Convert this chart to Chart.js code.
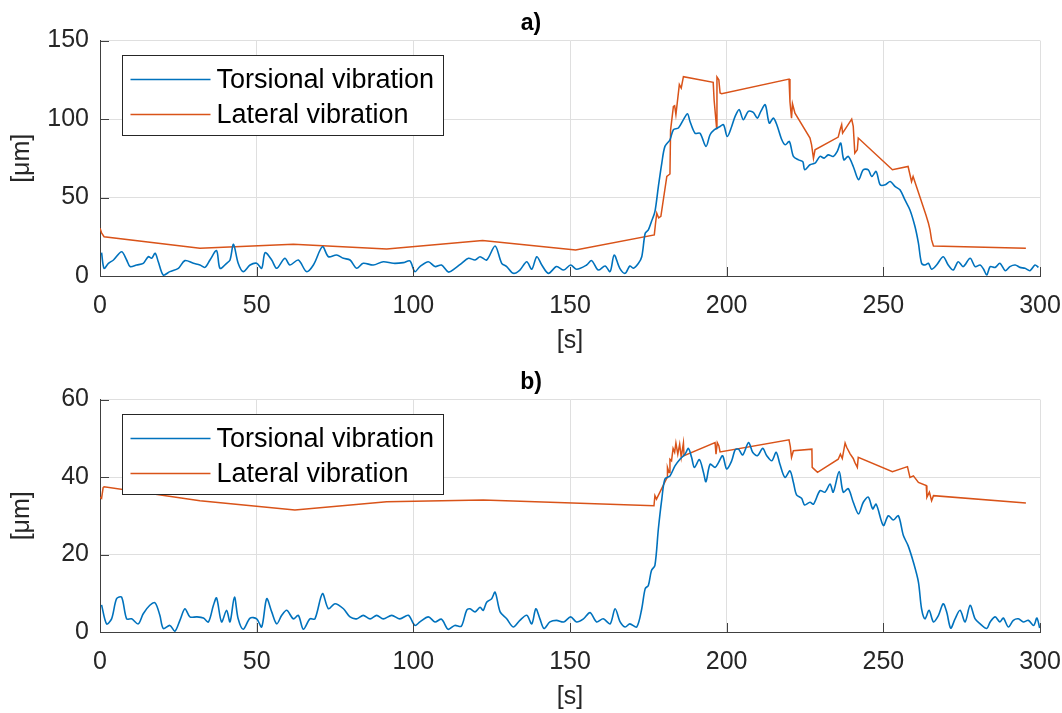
<!DOCTYPE html>
<html>
<head>
<meta charset="utf-8">
<script src="https://cdn.jsdelivr.net/npm/chart.js@4.4.1/dist/chart.umd.min.js"></script>
<style>
    html, body { margin: 0; padding: 0; background: #fff; }
    .panel { position: absolute; left: 0; width: 1062px; height: 357px; }
</style>
</head>
<body>
<div class="panel" style="top:0"><canvas id="chartA" width="1062" height="357"></canvas></div>
<div class="panel" style="top:357px"><canvas id="chartB" width="1062" height="356"></canvas></div>
<script>
// a) time [s] and amplitude [um]
const torsionalATime = [0.5, 1.3, 2.7, 4.3, 6.9, 8.5, 9.6, 11.7, 13.8, 15.4, 16.5, 17.6, 18.6, 20.2, 22.3, 25.0, 27.1, 29.8, 31.9, 33.5, 35.1, 37.2, 38.3, 40.4, 41.5, 42.6, 44.1, 45.7, 47.9, 50.0, 51.6, 52.7, 54.8, 56.4, 59.0, 60.6, 63.3, 65.9, 68.1, 71.0, 72.9, 75.5, 77.7, 79.8, 81.9, 84.0, 87.2, 90.4, 93.6, 96.8, 98.9, 100.5, 102.1, 104.8, 106.9, 109.0, 111.2, 113.3, 115.4, 117.6, 119.7, 121.3, 123.4, 126.1, 128.2, 129.8, 131.9, 134.0, 136.2, 137.8, 139.4, 141.0, 143.1, 145.7, 148.0, 150.2, 152.1, 155.3, 156.9, 159.0, 161.2, 162.8, 164.1, 165.9, 167.6, 169.1, 170.2, 171.8, 172.9, 174.0, 175.0, 176.0, 177.1, 178.2, 179.3, 180.3, 181.9, 183.0, 184.6, 186.2, 187.5, 188.3, 189.9, 191.5, 193.4, 194.7, 196.1, 197.9, 199.0, 200.2, 201.6, 202.7, 204.0, 205.3, 206.9, 208.5, 209.8, 210.9, 212.3, 213.6, 214.9, 216.0, 217.6, 218.7, 220.0, 221.3, 222.9, 224.3, 224.9, 226.6, 228.2, 229.8, 231.1, 232.4, 234.0, 235.3, 236.4, 237.4, 238.8, 240.4, 242.1, 243.6, 245.2, 246.3, 247.7, 249.0, 250.6, 252.2, 253.8, 255.3, 256.9, 258.5, 260.1, 261.2, 262.2, 263.3, 264.4, 265.4, 267.0, 269.1, 270.7, 272.3, 273.9, 275.5, 277.7, 279.3, 280.9, 282.0, 283.0, 284.1, 285.7, 287.2, 288.9, 290.4, 292.1, 293.6, 295.2, 296.8, 298.4, 299.5];
const torsionalA = [14.9, 4.9, 8.1, 10.2, 15.5, 10.2, 6.0, 7.0, 8.0, 12.3, 11.3, 14.5, 9.1, 0.6, 2.8, 4.9, 9.8, 8.1, 7.0, 5.5, 10.2, 16.2, 4.9, 8.1, 10.2, 20.2, 8.1, 2.8, 7.0, 8.1, 4.9, 14.9, 10.2, 4.9, 11.3, 7.0, 10.2, 2.8, 7.0, 18.7, 12.3, 13.4, 11.3, 10.2, 4.9, 8.1, 7.0, 9.1, 8.1, 8.5, 9.6, 2.8, 6.0, 9.1, 6.0, 7.0, 2.5, 4.9, 8.1, 11.3, 10.2, 12.3, 10.2, 19.1, 8.1, 6.0, 1.7, 3.8, 9.1, 4.3, 12.3, 7.0, 1.7, 6.0, 3.8, 7.0, 4.3, 7.0, 9.8, 3.8, 6.4, 2.8, 13.4, 4.9, 1.7, 6.4, 4.9, 8.0, 12.3, 27.2, 29.4, 34.7, 41.0, 57.0, 72.0, 82.6, 86.8, 93.2, 94.3, 99.6, 103.4, 98.5, 91.0, 91.0, 82.6, 90.0, 93.2, 95.3, 96.4, 88.9, 95.3, 101.7, 106.0, 99.6, 104.9, 104.3, 100.6, 104.9, 109.1, 97.4, 100.6, 96.4, 86.8, 83.6, 85.7, 76.2, 74.0, 72.9, 67.7, 70.9, 71.9, 76.2, 75.1, 77.2, 76.2, 79.4, 84.7, 74.0, 76.2, 69.8, 61.3, 67.7, 67.7, 63.4, 66.6, 58.1, 58.1, 60.2, 57.0, 54.9, 48.5, 42.1, 31.5, 20.9, 8.1, 7.0, 8.1, 4.3, 7.0, 12.3, 7.0, 3.8, 9.1, 6.0, 11.3, 6.0, 7.0, 4.3, 0.6, 6.0, 5.5, 8.1, 3.4, 6.0, 7.0, 5.5, 4.9, 3.4, 7.0, 5.5];

const lateralATime = [0.0, 0.5, 1.3, 31.9, 61.7, 91.5, 122.1, 151.8, 176.9, 177.3, 177.7, 178.3, 179.0, 180.9, 181.9, 182.1, 183.0, 183.4, 183.8, 184.9, 185.5, 186.2, 195.7, 196.0, 196.8, 196.9, 197.5, 197.9, 198.4, 219.9, 220.2, 220.7, 221.0, 221.8, 226.6, 227.1, 227.7, 228.2, 235.6, 236.2, 236.7, 237.0, 239.9, 240.4, 240.9, 241.7, 242.0, 252.9, 257.9, 259.0, 259.5, 263.6, 264.4, 264.9, 265.4, 266.0, 295.5];
const lateralA = [30.4, 27.5, 25.0, 17.7, 20.2, 17.2, 22.6, 16.6, 26.2, 33.6, 40.0, 37.0, 38.0, 63.4, 65.0, 93.0, 108.0, 108.5, 102.8, 122.0, 119.8, 127.0, 123.4, 112.0, 94.0, 126.8, 125.0, 116.6, 116.2, 125.5, 111.0, 100.6, 109.8, 103.8, 87.9, 83.6, 75.0, 80.4, 88.5, 93.2, 96.4, 91.0, 100.0, 95.3, 78.3, 80.4, 87.9, 67.7, 69.8, 60.2, 63.4, 38.9, 33.6, 29.4, 23.0, 19.1, 17.7];

// b)
const torsionalBTime = [0.5, 2.1, 3.7, 5.3, 6.9, 8.5, 10.1, 12.2, 13.8, 15.9, 17.6, 19.1, 20.2, 22.3, 23.9, 25.5, 27.1, 28.7, 30.9, 33.0, 34.6, 36.2, 37.2, 38.8, 40.4, 41.5, 42.9, 44.1, 45.7, 47.9, 50.0, 51.6, 53.2, 54.8, 56.4, 58.0, 59.6, 61.7, 63.3, 64.9, 67.0, 68.6, 71.0, 72.9, 75.0, 77.7, 79.8, 81.9, 84.0, 86.2, 88.3, 90.4, 93.1, 95.7, 98.4, 100.5, 102.1, 104.8, 106.9, 109.0, 111.1, 113.2, 115.3, 117.0, 118.1, 119.7, 121.3, 122.3, 123.4, 125.0, 126.1, 127.7, 129.8, 131.9, 134.0, 136.2, 137.8, 139.1, 140.4, 141.7, 143.6, 145.7, 148.0, 150.2, 152.1, 154.3, 156.4, 158.5, 160.6, 162.8, 164.4, 166.0, 167.6, 169.1, 171.3, 172.9, 174.0, 175.0, 176.0, 177.1, 178.2, 179.3, 180.3, 181.9, 183.5, 185.1, 186.7, 187.8, 188.8, 189.7, 191.3, 192.6, 193.4, 194.7, 196.3, 197.3, 198.7, 200.0, 201.6, 202.7, 203.8, 205.1, 207.0, 208.3, 209.8, 211.5, 212.8, 214.4, 215.8, 217.0, 218.6, 220.2, 221.3, 222.3, 223.9, 224.9, 226.6, 227.7, 229.8, 231.4, 233.0, 234.0, 235.9, 237.2, 238.8, 240.4, 242.1, 243.6, 245.2, 246.6, 247.7, 250.0, 251.6, 253.2, 254.8, 256.4, 257.9, 259.6, 261.2, 262.2, 263.3, 264.6, 266.0, 267.6, 269.1, 270.2, 271.5, 272.9, 274.5, 276.1, 277.7, 279.3, 280.9, 283.0, 284.1, 285.7, 287.2, 288.3, 289.9, 291.5, 293.1, 294.7, 296.3, 298.0, 299.0, 299.9];
const torsionalB = [7.0, 2.1, 3.4, 8.6, 9.0, 3.4, 3.4, 2.1, 4.7, 6.9, 7.5, 4.3, 0.9, 1.7, 0.2, 3.0, 6.0, 3.9, 3.9, 3.6, 2.6, 6.9, 8.8, 2.6, 5.6, 2.6, 9.0, 3.4, 0.7, 3.6, 3.4, 1.3, 8.6, 5.2, 2.1, 4.3, 5.6, 3.4, 4.3, 0.7, 3.4, 3.4, 9.9, 6.0, 7.3, 6.0, 3.9, 3.4, 4.3, 3.4, 4.3, 3.4, 4.3, 3.4, 4.3, 1.7, 2.6, 3.9, 2.6, 3.3, 0.7, 1.7, 1.5, 5.6, 6.0, 5.2, 6.4, 5.6, 7.7, 8.6, 10.3, 5.2, 3.4, 1.3, 3.0, 4.3, 2.1, 6.0, 3.4, 0.9, 2.6, 3.0, 2.6, 3.9, 2.6, 3.4, 5.0, 2.6, 3.4, 2.1, 6.0, 2.6, 1.3, 2.1, 1.3, 6.0, 11.2, 12.0, 15.9, 17.2, 26.6, 34.3, 39.5, 40.3, 42.9, 44.6, 45.9, 47.4, 45.1, 42.5, 44.5, 41.2, 38.8, 43.3, 42.5, 43.6, 45.5, 42.1, 44.2, 47.0, 47.2, 45.7, 48.9, 46.4, 45.5, 47.4, 45.5, 44.2, 46.4, 43.3, 39.9, 41.6, 38.6, 35.4, 34.5, 32.8, 33.5, 33.0, 36.5, 36.1, 38.2, 36.1, 41.4, 36.1, 37.0, 33.5, 30.5, 33.5, 34.8, 31.8, 33.0, 27.5, 30.0, 28.9, 30.0, 24.9, 22.3, 18.0, 12.9, 6.0, 3.4, 5.6, 2.6, 4.3, 7.3, 5.2, 1.0, 3.4, 5.6, 2.6, 6.9, 3.4, 2.1, 0.9, 2.6, 3.9, 2.6, 3.6, 1.3, 3.0, 3.4, 2.6, 3.0, 1.7, 3.6, 1.0];

const lateralBTime = [0.0, 0.5, 1.0, 1.3, 31.9, 62.2, 91.5, 122.3, 176.8, 177.1, 177.6, 181.0, 181.1, 181.6, 181.9, 182.4, 182.9, 183.4, 183.8, 184.4, 185.0, 185.5, 186.2, 186.4, 196.3, 196.6, 197.0, 197.5, 197.9, 219.9, 220.3, 220.7, 221.3, 227.2, 227.3, 229.0, 235.6, 236.3, 236.9, 237.8, 238.3, 239.4, 240.4, 240.9, 241.7, 242.0, 252.9, 257.7, 258.5, 259.6, 261.2, 263.7, 263.9, 264.7, 265.4, 266.0, 295.5];
const lateralB = [34.8, 34.5, 37.3, 37.5, 33.9, 31.5, 33.6, 34.1, 32.6, 35.2, 34.3, 39.9, 42.5, 41.2, 44.6, 44.2, 47.4, 46.4, 48.8, 45.9, 48.5, 45.1, 48.8, 45.5, 48.9, 45.9, 48.9, 48.1, 46.5, 49.6, 47.9, 45.1, 46.8, 47.2, 42.5, 41.2, 44.6, 45.9, 44.8, 48.8, 47.7, 46.0, 44.8, 43.8, 42.5, 45.1, 41.4, 42.7, 39.9, 40.3, 38.6, 37.8, 34.8, 36.1, 33.9, 35.2, 33.3];

const xTicks = [0, 50, 100, 150, 200, 250, 300];
const yTicksA = [0, 50, 100, 150];
const yTicksB = [0, 20, 40, 60];

const BLUE = '#0072BD';
const ORANGE = '#D95319';
const AXIS = '#404040';
const TEXT = '#262626';
const FONT = "'Liberation Sans', Arial, Helvetica, sans-serif";

function toPoints(times, values) {
    return times.map((t, i) => ({ x: t, y: values[i] }));
}

// MATLAB-like look: ticks pointing inward plus a boxed legend in the top-left corner
const matlabBits = {
    id: 'matlabBits',
    afterDatasetsDraw(chart) {
        const { ctx, chartArea: a, scales } = chart;

        ctx.save();
        ctx.strokeStyle = AXIS;
        ctx.lineWidth = 1;
        ctx.beginPath();
        scales.x.ticks.forEach(t => {
            const px = Math.round(scales.x.getPixelForValue(t.value)) + 0.5;
            ctx.moveTo(px, a.bottom);
            ctx.lineTo(px, a.bottom - 9);
        });
        scales.y.ticks.forEach(t => {
            const py = Math.round(scales.y.getPixelForValue(t.value)) + 0.5;
            ctx.moveTo(a.left, py);
            ctx.lineTo(a.left + 9, py);
        });
        ctx.stroke();

        const bx = Math.round(a.left + 22) + 0.5;
        const by = Math.round(a.top + 14) + 0.5;
        const bw = 321;
        const bh = 80;
        ctx.fillStyle = '#fff';
        ctx.fillRect(bx, by, bw, bh);
        ctx.strokeStyle = TEXT;
        ctx.strokeRect(bx, by, bw, bh);

        ctx.font = '27px ' + FONT;
        ctx.textBaseline = 'middle';
        ctx.textAlign = 'left';
        chart.data.datasets.forEach((ds, i) => {
            const ly = by + 24 + i * 35;
            ctx.strokeStyle = ds.borderColor;
            ctx.lineWidth = 1.5;
            ctx.beginPath();
            ctx.moveTo(bx + 8, ly);
            ctx.lineTo(bx + 88, ly);
            ctx.stroke();
            ctx.fillStyle = '#000';
            ctx.fillText(ds.label, bx + 94, ly + 1);
        });
        ctx.restore();
    },
};

function makeChart(canvasId, title, titleTop, tors, lat, yMax, yTicks) {
    return new Chart(document.getElementById(canvasId), {
        type: 'line',
        data: {
            datasets: [{
                label: 'Torsional vibration',
                data: tors,
                borderColor: BLUE,
                borderWidth: 1.6,
                pointRadius: 0,
                tension: 0.3,
                fill: false,
            }, {
                label: 'Lateral vibration',
                data: lat,
                borderColor: ORANGE,
                borderWidth: 1.5,
                pointRadius: 0,
                tension: 0,
                fill: false,
            }],
        },
        options: {
            responsive: false,
            animation: false,
            layout: {
                padding: { left: 0, right: 0, top: 0, bottom: 0 },
            },
            scales: {
                x: {
                    type: 'linear',
                    min: 0,
                    max: 300,
                    afterBuildTicks: scale => {
                        scale.ticks = xTicks.map(v => ({ value: v }));
                    },
                    afterFit: scale => {
                        scale.height = 81;
                        scale.paddingLeft = 0;
                        scale.paddingRight = 22;
                    },
                    grid: { color: '#dfdfdf', drawTicks: false },
                    border: { color: AXIS, width: 1 },
                    ticks: {
                        color: TEXT,
                        padding: 15,
                        maxRotation: 0,
                        font: { family: FONT, size: 25 },
                    },
                    title: {
                        display: true,
                        text: '[s]',
                        color: TEXT,
                        padding: { top: 0, bottom: 1 },
                        font: { family: FONT, size: 25 },
                    },
                },
                y: {
                    min: 0,
                    max: yMax,
                    afterBuildTicks: scale => {
                        scale.ticks = yTicks.map(v => ({ value: v }));
                    },
                    afterFit: scale => {
                        scale.width = 100;
                        scale.paddingTop = 0;
                        scale.paddingBottom = 0;
                    },
                    grid: { color: '#dfdfdf', drawTicks: false },
                    border: { color: AXIS, width: 1 },
                    ticks: {
                        color: TEXT,
                        padding: 11,
                        font: { family: FONT, size: 25 },
                    },
                    title: {
                        display: true,
                        text: '[μm]',
                        color: TEXT,
                        padding: { top: 7, bottom: 0 },
                        font: { family: FONT, size: 25 },
                    },
                },
            },
            plugins: {
                legend: { display: false },
                tooltip: { enabled: false },
                title: {
                    display: true,
                    text: title,
                    color: '#000',
                    padding: { top: titleTop, bottom: 3 },
                    font: { family: FONT, size: 23, weight: 'bold' },
                },
            },
        },
        plugins: [matlabBits],
    });
}

makeChart('chartA', 'a)', 10, toPoints(torsionalATime, torsionalA), toPoints(lateralATime, lateralA), 150, yTicksA);
makeChart('chartB', 'b)', 12, toPoints(torsionalBTime, torsionalB), toPoints(lateralBTime, lateralB), 60, yTicksB);
</script>
</body>
</html>
